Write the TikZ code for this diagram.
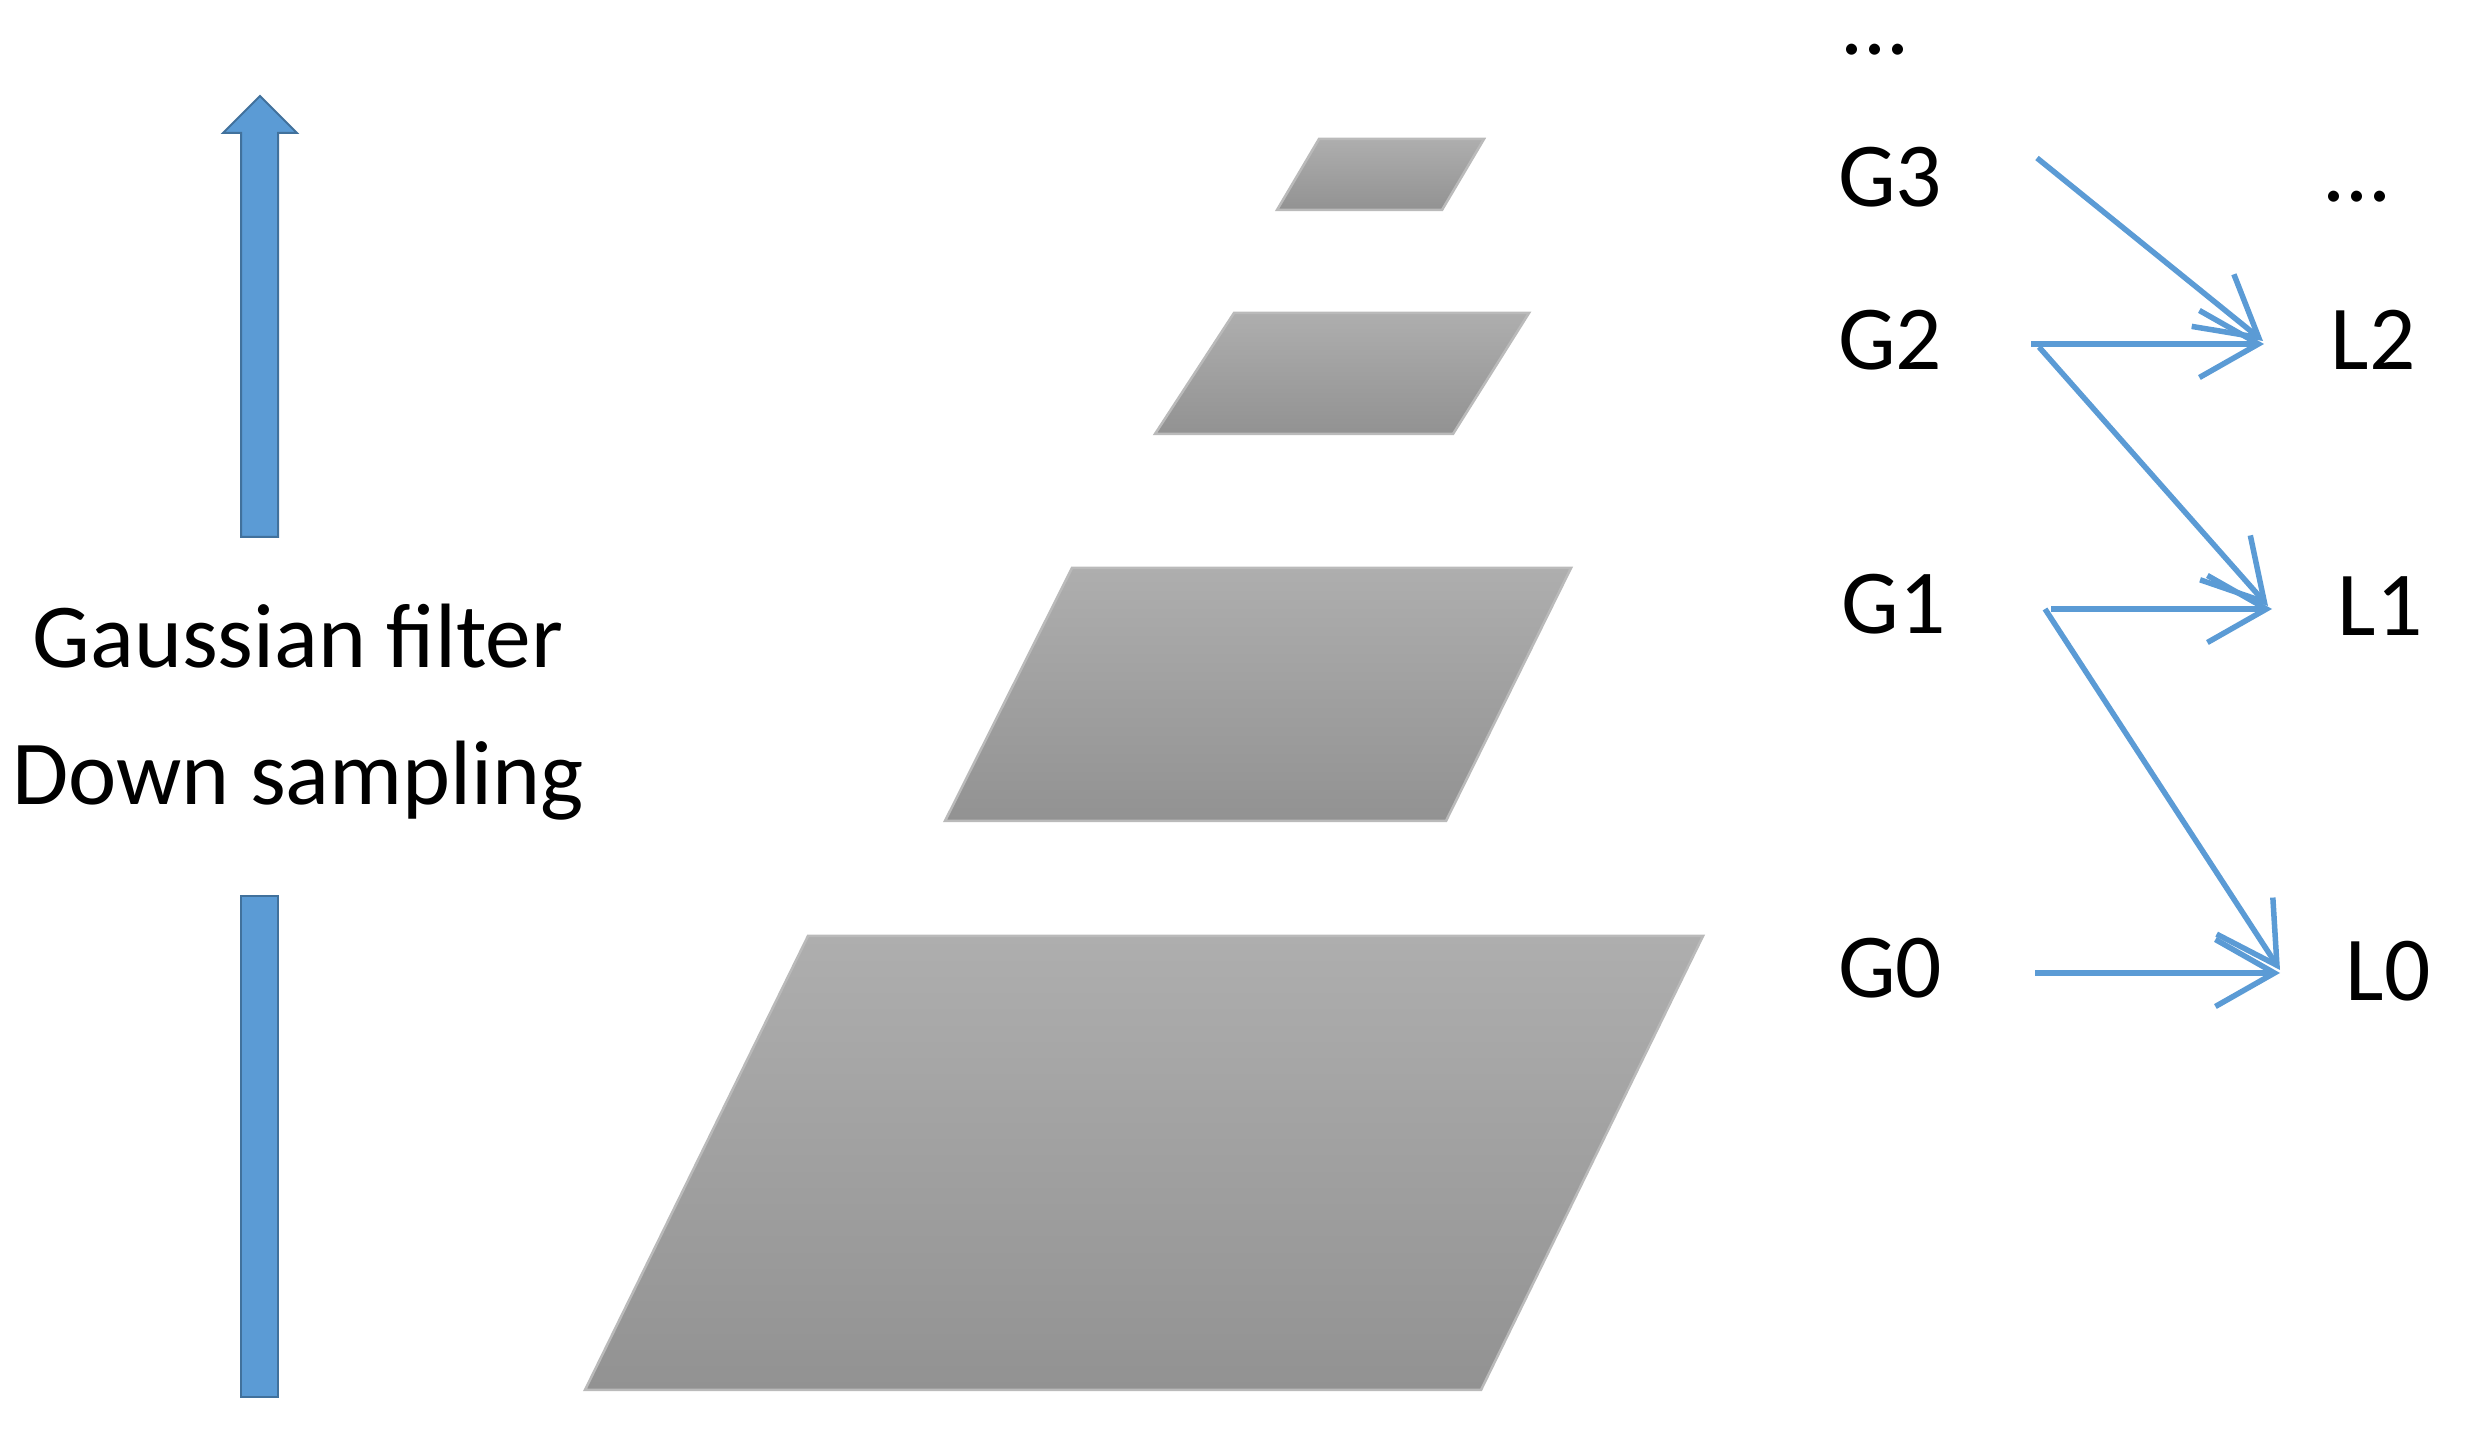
\documentclass[tikz,border=0pt]{standalone}
\usepackage{fontspec}
\setmainfont{Carlito}
\usetikzlibrary{arrows.meta,calc}
\definecolor{bluefill}{RGB}{91,155,213}
\definecolor{blueline}{RGB}{65,113,156}
\definecolor{conn}{RGB}{91,155,213}
\definecolor{ptop}{RGB}{174,174,174}
\definecolor{pbot}{RGB}{146,146,146}
\definecolor{pedge}{RGB}{186,186,186}
\tikzset{
  lbl/.style={inner sep=0pt, anchor=base, font=\fontsize{26}{30}\selectfont},
  plane/.style={draw=pedge, line width=0.025cm, top color=ptop, bottom color=pbot, line join=miter},
  bigarrow/.style={fill=bluefill, draw=blueline, line width=0.02cm},
  connarrow/.style={draw=conn, line width=0.055cm, -{Straight Barb[length=0.59cm,width=0.67cm]}}
}
\begin{document}
\begin{tikzpicture}[x=0.01cm,y=-0.01cm]
\useasboundingbox (0,0) rectangle (2480,1440);
% big blue arrow
\path[bigarrow] (241,537) -- (241,133) -- (223,133) -- (260,96) -- (297,133) -- (278,133) -- (278,537) -- cycle;
\path[bigarrow] (241,896) rectangle (278,1397);
% labels left
\node[lbl] (gf) at (298,668) {Gaussian filter};
\node[lbl] (ds) at (298,805) {Down sampling};
% pyramid planes
\path[plane] (1319,139) -- (1484,139) -- (1442,210) -- (1277,210) -- cycle;
\path[plane] (1234,313) -- (1529,313) -- (1453,434) -- (1155,434) -- cycle;
\path[plane] (1072,568) -- (1571,568) -- (1446,821) -- (945,821) -- cycle;
\path[plane] (808,936) -- (1703,936) -- (1481,1390) -- (585,1390) -- cycle;
% G labels
\node[lbl] (gdots) at (1875,55) {...};
\node[lbl] (G3) at (1890,207) {G3};
\node[lbl] (G2) at (1890,370) {G2};
\node[lbl] (G1) at (1894,634) {G1};
\node[lbl] (G0) at (1890,998) {G0};
% L labels
\node[lbl] (ldots) at (2357,202) {...};
\node[lbl] (L2) at (2373,370) {L2};
\node[lbl] (L1) at (2380,636) {L1};
\node[lbl] (L0) at (2388,1001) {L0};
% connectors
\draw[connarrow] ($(G3.base)+(147,-49)$) -- ($(L2.base)+(-110,-29)$);
\draw[connarrow] ($(G2.base)+(141,-26)$) -- ($(L2.base)+(-109,-26)$);
\draw[connarrow] ($(G2.base)+(149,-23)$) -- ($(L1.base)+(-112,-30)$);
\draw[connarrow] ($(G1.base)+(157,-25)$) -- ($(L1.base)+(-108,-27)$);
\draw[connarrow] ($(G1.base)+(151,-25)$) -- ($(L0.base)+(-108,-31)$);
\draw[connarrow] ($(G0.base)+(145,-25)$) -- ($(L0.base)+(-108,-28)$);
\end{tikzpicture}
\end{document}
